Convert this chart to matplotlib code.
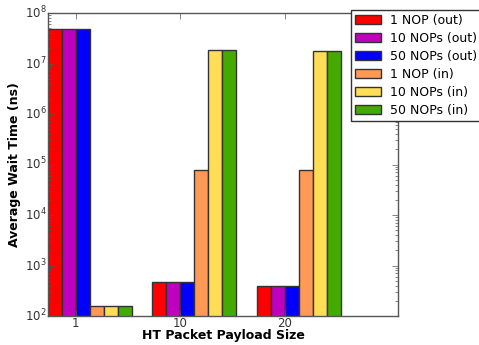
import numpy as np
import matplotlib
matplotlib.use("Agg")
from matplotlib import pyplot as plt

plt.style.use("classic")
plt.rcParams["font.family"] = "DejaVu Sans"

payload_sizes = ["1", "10", "20"]
series_names = ["1 NOP (out)", "10 NOPs (out)", "50 NOPs (out)",
                "1 NOP (in)", "10 NOPs (in)", "50 NOPs (in)"]
colors = ["#ff0000", "#bf00bf", "#0000ff", "#ff9955", "#ffdd55", "#44aa00"]

# average wait time (ns) per payload size
nop1_out = [4.75e7, 465, 398]
nop10_out = [4.75e7, 465, 398]
nop50_out = [4.75e7, 465, 398]
nop1_in = [160, 7.67e4, 7.8e4]
nop10_in = [160, 1.82e7, 1.8e7]
nop50_in = [160, 1.82e7, 1.8e7]
series = [nop1_out, nop10_out, nop50_out, nop1_in, nop10_in, nop50_in]

ind = np.arange(len(payload_sizes))
width = 0.8 / 6

fig = plt.figure(figsize=(4.79, 3.45), dpi=100, facecolor="white")
ax = fig.add_axes([48 / 479, 1 - 316 / 345, 350 / 479, 303 / 345])

for i, (vals, name, c) in enumerate(zip(series, series_names, colors)):
    ax.bar(ind + i * width, vals, width, color=c, edgecolor="#333333",
           linewidth=1.0, label=name, align="edge", log=True)

ax.set_yscale("log")
ax.set_ylim(1e2, 1e8)
ax.set_xlim(0, 3.35)
ax.set_xticks(ind + 2 * width)
ax.set_xticklabels(payload_sizes)
ax.tick_params(axis="both", which="major", labelsize=8.5, colors="#555555",
               labelcolor="#333333", pad=1)
ax.tick_params(axis="both", which="minor", colors="#555555")
for s in ax.spines.values():
    s.set_color("#555555")

ax.set_xlabel("HT Packet Payload Size", fontsize=9, fontweight="bold")
ax.set_ylabel("Average Wait Time (ns)", fontsize=9, fontweight="bold")
# label centres in axes coordinates
ax.xaxis.set_label_coords(0.5, -19.5 / 303)
ax.yaxis.set_label_coords(-33 / 350, 0.5)
ax.xaxis.label.set_va("center")
ax.yaxis.label.set_va("center")

leg = ax.legend(loc="upper left", bbox_to_anchor=(351 / 479, 1 - 10 / 345),
                bbox_transform=fig.transFigure, fontsize=9, frameon=True,
                handlelength=2.1, handleheight=0.65, labelspacing=0.4,
                borderaxespad=0, borderpad=0.3, handletextpad=0.7)
leg.get_frame().set_edgecolor("#333333")

fig.savefig("out.png", dpi=100, facecolor="white")
